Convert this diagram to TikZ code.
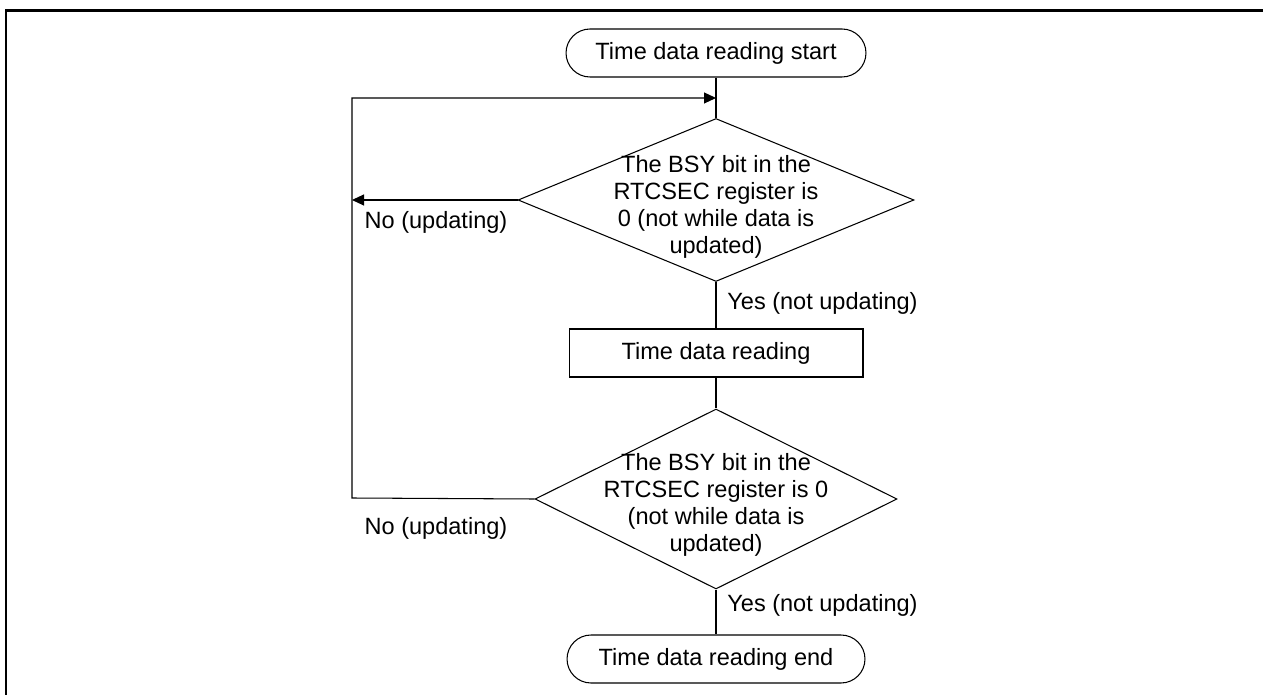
\documentclass[tikz,border=0pt]{standalone}
\usepackage{fontspec}
\setmainfont{Liberation Sans}
\usetikzlibrary{positioning,calc,arrows.meta,shapes.geometric}

\begin{document}
\begin{tikzpicture}[x=0.02cm,y=-0.02cm,
    every node/.style={font=\fontsize{13.4}{15.4}\selectfont},
    line/.style={line width=0.6pt},
    flow/.style={line,-{Triangle[length=0.24cm,width=0.22cm]}},
    term/.style={draw,line,rectangle,rounded corners=0.48cm,minimum width=6cm,minimum height=0.96cm,inner sep=0pt},
    proc/.style={draw,line,rectangle,minimum width=5.88cm,minimum height=0.96cm,inner sep=0pt},
    cond/.style={draw,line,diamond,inner sep=0pt},
    txt/.style={align=center,inner sep=0pt}]
\useasboundingbox (0,0) rectangle (1263,695);
\draw[line width=1.7pt] (6,695) -- (6,10.5) -- (1263,10.5);

\node (start) at (716,53) [term] {Time data reading start};
\node (chk1) at (716,200) [cond,minimum width=7.92cm,minimum height=3.26cm] {};
\node (chk1txt) at (716,207) [txt] {The BSY bit in the\\RTCSEC register is\\0 (not while data is\\updated)};
\node (read) at (716,353) [proc] {Time data reading};
\node (chk2) at (716,499) [cond,minimum width=7.24cm,minimum height=3.6cm] {};
\node (chk2txt) at (716,505) [txt] {The BSY bit in the\\RTCSEC register is 0\\(not while data is\\updated)};
\node (stop) at (716,659) [term,minimum width=5.96cm] {Time data reading end};
\coordinate (join) at (716,98);
\coordinate (back1) at (352,200);
\coordinate (back2) at (352,498);

\draw[line] (start) -- (chk1);
\draw[line] (chk1) -- (read);
\draw[line] (read) -- (chk2);
\draw[line] (chk2) -- (stop);
\draw[flow] (chk1.west) -- (back1);
\draw[flow] (chk2.west) -- (back2) |- (join);

\node (no1) at (436,222) {No (updating)};
\node (no2) at (436,528) {No (updating)};
\node (yes1) at (727,303) [anchor=west,inner sep=0pt] {Yes (not updating)};
\node (yes2) at (727,605) [anchor=west,inner sep=0pt] {Yes (not updating)};
\end{tikzpicture}
\end{document}
